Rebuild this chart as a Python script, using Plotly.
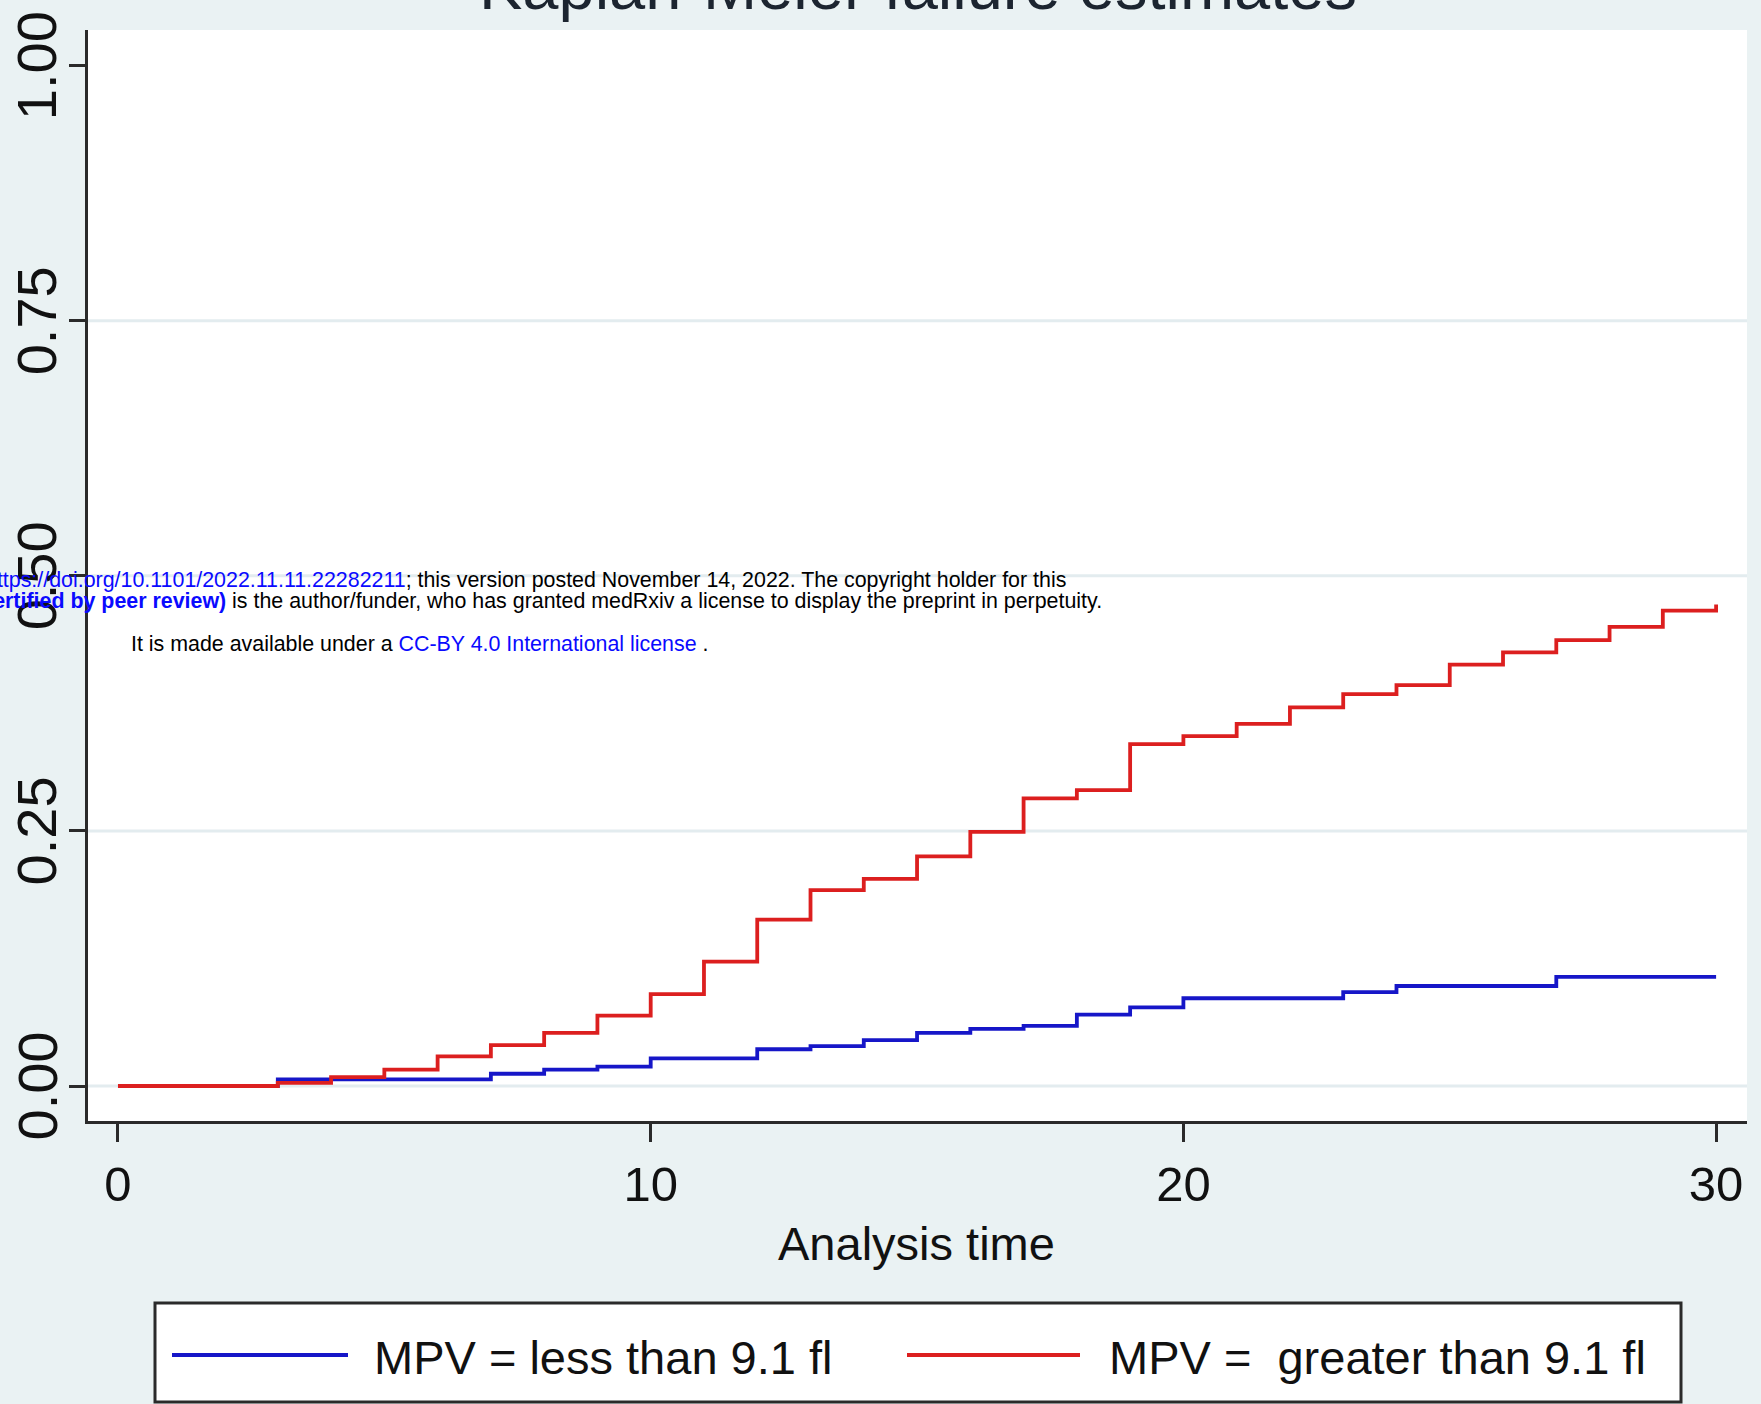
import plotly.graph_objects as go

# ---------------- data ----------------
time_less = [0, 3, 7, 8, 9, 10, 12, 13, 14, 15, 16, 17, 18, 19, 20, 23, 24, 27, 30]
fail_less = [0.0, 0.0065, 0.012, 0.016, 0.019, 0.027, 0.036, 0.039, 0.045, 0.052,
             0.056, 0.059, 0.070, 0.077, 0.086, 0.092, 0.098, 0.107, 0.107]

time_greater = [0, 3, 4, 5, 6, 7, 8, 9, 10, 11, 12, 13, 14, 15, 16, 17, 18, 19, 20,
                21, 22, 23, 24, 25, 26, 27, 28, 29, 30]
fail_greater = [0.0, 0.003, 0.0088, 0.016, 0.029, 0.040, 0.052, 0.069, 0.090, 0.122,
                0.163, 0.192, 0.203, 0.225, 0.249, 0.282, 0.290, 0.335, 0.343, 0.355,
                0.371, 0.384, 0.393, 0.413, 0.425, 0.437, 0.450, 0.466, 0.472]

series_names = ["MPV = less than 9.1 fl", "MPV =\u00a0 greater than 9.1 fl"]
series_colors = ["#1616c8", "#dc1f1f"]

x_ticks = [0, 10, 20, 30]
y_ticks = [0, 0.25, 0.5, 0.75, 1.0]
y_tick_labels = ["0.00", "0.25", "0.50", "0.75", "1.00"]
grid_vals = [0, 0.25, 0.5, 0.75]

title_text = "Kaplan-Meier failure estimates"
x_title = "Analysis time"

# ---------------- layout geometry ----------------
W, H = 1761, 1404
L, R, T, B = 88, 14, 30, 283
PW, PH = W - L - R, H - T - B

def px(x):
    return (x - L) / PW

def py(y):
    return 1 - (y - T) / PH

SANS = "Liberation Sans"
BG = "#eaf2f3"
AXC = "#2a2a2a"
TXT = "#111111"

fig = go.Figure()
for t, f, name, col in [(time_less, fail_less, series_names[0], series_colors[0]),
                        (time_greater, fail_greater, series_names[1], series_colors[1])]:
    fig.add_trace(go.Scatter(x=t, y=f, mode="lines", line=dict(color=col, width=3.8, shape="hv"),
                             name=name, showlegend=False))

shapes = []
for g in grid_vals:
    shapes.append(dict(type="line", xref="paper", yref="y", x0=0, x1=1, y0=g, y1=g,
                       line=dict(color="#e3ecef", width=3), layer="below"))

# legend box (drawn manually to match the wide line samples)
shapes.append(dict(type="rect", xref="paper", yref="paper",
                   x0=px(155), x1=px(1681), y0=py(1402), y1=py(1303),
                   line=dict(color=AXC, width=3), fillcolor="white", layer="above"))
shapes.append(dict(type="line", xref="paper", yref="paper", x0=px(172), x1=px(348),
                   y0=py(1355), y1=py(1355), line=dict(color=series_colors[0], width=4)))
shapes.append(dict(type="line", xref="paper", yref="paper", x0=px(907), x1=px(1080),
                   y0=py(1355), y1=py(1355), line=dict(color=series_colors[1], width=4)))

annotations = []
# title (mostly cropped off at the top)
annotations.append(dict(text=title_text, xref="paper", yref="paper", x=0.5, y=1.0,
                        xanchor="center", yanchor="bottom", showarrow=False, yshift=5,
                        font=dict(family=SANS, size=65, color="#1c2530")))
# y tick labels (rotated, centred on their ticks)
for v, lab in zip(y_ticks, y_tick_labels):
    annotations.append(dict(text=lab, xref="paper", yref="y", x=px(36.5), y=v,
                            xanchor="center", yanchor="middle", textangle=-90, showarrow=False,
                            font=dict(family=SANS, size=56, color=TXT)))
# x axis title
annotations.append(dict(text=x_title, xref="paper", yref="paper", x=px(916), y=py(1272),
                        xanchor="center", yanchor="bottom", showarrow=False,
                        font=dict(family=SANS, size=47, color=TXT)))
# legend texts
annotations.append(dict(text=series_names[0], xref="paper", yref="paper", x=px(372), y=py(1357),
                        xanchor="left", yanchor="middle", showarrow=False,
                        font=dict(family=SANS, size=47, color=TXT)))
annotations.append(dict(text=series_names[1], xref="paper", yref="paper", x=px(1107), y=py(1357),
                        xanchor="left", yanchor="middle", showarrow=False,
                        font=dict(family=SANS, size=47, color=TXT)))

# medRxiv watermark text
BLUE = "#0a0aff"
annotations.append(dict(
    text=f"<span style='color:{BLUE}'>https://doi.org/10.1101/2022.11.11.22282211</span>; this version posted November 14, 2022. The copyright holder for this",
    xref="paper", yref="paper", x=px(1068), y=py(580), xanchor="right", yanchor="middle",
    showarrow=False, font=dict(family=SANS, size=21.4, color="#000000")))
annotations.append(dict(
    text=f"<span style='color:{BLUE}'><b>(which was not certified by peer review)</b></span> is the author/funder, who has granted medRxiv a license to display the preprint in perpetuity.",
    xref="paper", yref="paper", x=px(1104), y=py(601), xanchor="right", yanchor="middle",
    showarrow=False, font=dict(family=SANS, size=21.4, color="#000000")))
annotations.append(dict(
    text=f"It is made available under a <span style='color:{BLUE}'>CC-BY 4.0 International license</span> .",
    xref="paper", yref="paper", x=px(129), y=py(644), xanchor="left", yanchor="middle",
    showarrow=False, font=dict(family=SANS, size=21.4, color="#000000")))

fig.update_layout(
    width=W, height=H,
    margin=dict(l=L, r=R, t=T, b=B, pad=0, autoexpand=False),
    paper_bgcolor=BG, plot_bgcolor="white",
    shapes=shapes, annotations=annotations,
    xaxis=dict(range=[-0.563, 30.58], tickvals=x_ticks, ticktext=[str(v) for v in x_ticks],
               automargin=False,
               showgrid=False, zeroline=False, showline=True, linecolor=AXC, linewidth=3,
               ticks="outside", ticklen=18, tickwidth=2.5, tickcolor=AXC,
               tickfont=dict(family=SANS, size=49, color=TXT)),
    yaxis=dict(range=[-0.0343, 1.035], tickvals=y_ticks, showticklabels=False,
               automargin=False,
               showgrid=False, zeroline=False, showline=True, linecolor=AXC, linewidth=3,
               ticks="outside", ticklen=16, tickwidth=2.5, tickcolor=AXC),
)

fig.write_html(
    "out.html",
    config={"displayModeBar": False},
    post_script=f"document.body.style.margin='0';document.body.style.background='{BG}';",
)
